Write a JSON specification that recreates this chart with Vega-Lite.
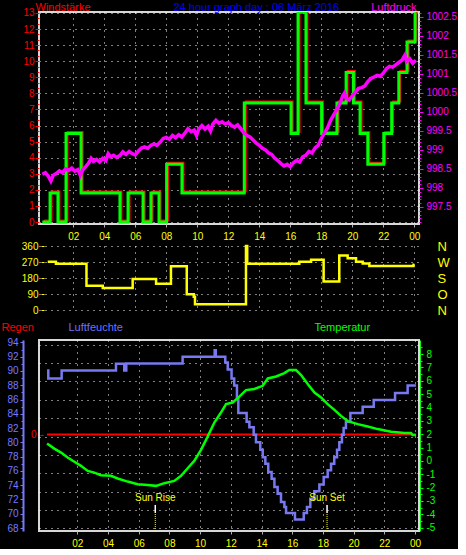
{
 "$schema": "https://vega.github.io/schema/vega-lite/v6.json",
 "background": "#000000",
 "padding": 0,
 "bounds": "flush",
 "spacing": 22,
 "config": {
  "view": {"stroke": null},
  "font": "Liberation Sans",
  "axis": {"labelFont": "Liberation Sans", "titleFont": "Liberation Sans", "labelFontSize": 10, "titleFontSize": 11, "titleFontWeight": "normal", "gridColor": "#ffffff", "gridDash": [1, 5], "gridOpacity": 1, "gridWidth": 1, "grid": false, "titleBaseline": "top", "titleAngle": 0}
 },
 "datasets": {
  "wind": [{"h":0,"v":0},{"h":0.5,"v":1.8},{"h":1.01,"v":0},{"h":1.53,"v":5.5},{"h":2.5,"v":1.8},{"h":5.01,"v":0},{"h":5.53,"v":1.8},{"h":6.5,"v":0},{"h":7.01,"v":1.8},{"h":7.53,"v":0},{"h":8.02,"v":3.6},{"h":9.01,"v":1.8},{"h":13.03,"v":7.4},{"h":16.05,"v":5.5},{"h":16.5,"v":13.05},{"h":17.01,"v":7.4},{"h":18.02,"v":5.5},{"h":19.01,"v":7.4},{"h":19.6,"v":9.3},{"h":20.07,"v":7.4},{"h":20.5,"v":5.5},{"h":21.0,"v":3.6},{"h":22.03,"v":5.5},{"h":22.54,"v":7.4},{"h":23.0,"v":9.3},{"h":23.53,"v":11.2},{"h":24.05,"v":13.05}],
  "press": [{"h":0.0,"p":998.36},{"h":0.2,"p":998.40},{"h":0.4,"p":998.30},{"h":0.55,"p":998.18},{"h":0.7,"p":998.33},{"h":0.9,"p":998.38},{"h":1.1,"p":998.45},{"h":1.3,"p":998.40},{"h":1.5,"p":998.50},{"h":1.7,"p":998.46},{"h":1.9,"p":998.52},{"h":2.1,"p":998.44},{"h":2.3,"p":998.48},{"h":2.45,"p":998.33},{"h":2.6,"p":998.47},{"h":2.8,"p":998.56},{"h":3.0,"p":998.66},{"h":3.15,"p":998.78},{"h":3.3,"p":998.70},{"h":3.5,"p":998.75},{"h":3.7,"p":998.68},{"h":3.9,"p":998.78},{"h":4.1,"p":998.72},{"h":4.25,"p":998.90},{"h":4.4,"p":998.82},{"h":4.6,"p":998.86},{"h":4.8,"p":998.80},{"h":5.0,"p":998.85},{"h":5.2,"p":998.95},{"h":5.4,"p":998.88},{"h":5.6,"p":998.96},{"h":5.8,"p":998.90},{"h":6.0,"p":998.87},{"h":6.2,"p":998.97},{"h":6.4,"p":999.05},{"h":6.6,"p":999.08},{"h":6.8,"p":999.04},{"h":7.0,"p":999.12},{"h":7.2,"p":999.16},{"h":7.4,"p":999.12},{"h":7.6,"p":999.20},{"h":7.8,"p":999.30},{"h":8.0,"p":999.33},{"h":8.2,"p":999.28},{"h":8.4,"p":999.38},{"h":8.6,"p":999.32},{"h":8.8,"p":999.40},{"h":9.0,"p":999.34},{"h":9.2,"p":999.44},{"h":9.4,"p":999.56},{"h":9.6,"p":999.48},{"h":9.8,"p":999.52},{"h":9.95,"p":999.38},{"h":10.1,"p":999.55},{"h":10.3,"p":999.64},{"h":10.5,"p":999.55},{"h":10.7,"p":999.62},{"h":10.85,"p":999.50},{"h":11.0,"p":999.68},{"h":11.2,"p":999.78},{"h":11.4,"p":999.70},{"h":11.6,"p":999.74},{"h":11.8,"p":999.68},{"h":12.0,"p":999.72},{"h":12.2,"p":999.64},{"h":12.4,"p":999.60},{"h":12.6,"p":999.66},{"h":12.8,"p":999.56},{"h":13.0,"p":999.45},{"h":13.2,"p":999.38},{"h":13.4,"p":999.34},{"h":13.6,"p":999.26},{"h":13.8,"p":999.18},{"h":14.0,"p":999.12},{"h":14.2,"p":999.04},{"h":14.4,"p":999.00},{"h":14.6,"p":998.92},{"h":14.8,"p":998.88},{"h":15.0,"p":998.78},{"h":15.2,"p":998.72},{"h":15.4,"p":998.64},{"h":15.6,"p":998.58},{"h":15.8,"p":998.62},{"h":16.0,"p":998.56},{"h":16.2,"p":998.66},{"h":16.4,"p":998.72},{"h":16.6,"p":998.68},{"h":16.8,"p":998.82},{"h":17.0,"p":998.86},{"h":17.2,"p":998.96},{"h":17.4,"p":998.92},{"h":17.6,"p":999.05},{"h":17.8,"p":999.12},{"h":18.0,"p":999.30},{"h":18.2,"p":999.45},{"h":18.4,"p":999.58},{"h":18.6,"p":999.78},{"h":18.8,"p":999.92},{"h":19.0,"p":1000.06},{"h":19.2,"p":1000.22},{"h":19.4,"p":1000.44},{"h":19.5,"p":1000.50},{"h":19.6,"p":1000.36},{"h":19.8,"p":1000.32},{"h":20.0,"p":1000.42},{"h":20.2,"p":1000.52},{"h":20.4,"p":1000.62},{"h":20.6,"p":1000.64},{"h":20.8,"p":1000.68},{"h":21.0,"p":1000.80},{"h":21.2,"p":1000.88},{"h":21.4,"p":1000.92},{"h":21.6,"p":1000.96},{"h":21.8,"p":1000.94},{"h":22.0,"p":1001.02},{"h":22.2,"p":1001.14},{"h":22.4,"p":1001.20},{"h":22.6,"p":1001.18},{"h":22.8,"p":1001.24},{"h":23.0,"p":1001.30},{"h":23.2,"p":1001.36},{"h":23.4,"p":1001.50},{"h":23.5,"p":1001.32},{"h":23.7,"p":1001.40},{"h":23.9,"p":1001.28},{"h":24.1,"p":1001.36}],
  "dir": [{"h":0.35,"d":272},{"h":0.88,"d":260},{"h":2.85,"d":137},{"h":3.9,"d":124},{"h":5.83,"d":174},{"h":7.34,"d":148},{"h":8.3,"d":246},{"h":9.32,"d":88},{"h":9.77,"d":75},{"h":9.85,"d":32},{"h":13.14,"d":360},{"h":13.22,"d":260},{"h":16.58,"d":272},{"h":17.34,"d":283},{"h":18.15,"d":161},{"h":19.16,"d":307},{"h":19.7,"d":291},{"h":20.24,"d":272},{"h":20.67,"d":261},{"h":21.1,"d":247},{"h":23.95,"d":255},{"h":24.0,"d":255}],
  "hum": [{"h":0.03,"u":90.05},{"h":0.11,"u":88.95},{"h":0.98,"u":90.05},{"h":4.52,"u":91.0},{"h":5.06,"u":90.05},{"h":5.19,"u":91.05},{"h":8.86,"u":92.0},{"h":10.95,"u":92.9},{"h":11.02,"u":92.0},{"h":11.64,"u":91.2},{"h":11.8,"u":90.2},{"h":12.05,"u":88.95},{"h":12.22,"u":87.95},{"h":12.4,"u":86.3},{"h":12.49,"u":84.1},{"h":13.03,"u":82.9},{"h":13.21,"u":82.1},{"h":13.49,"u":81.05},{"h":13.64,"u":80.0},{"h":13.92,"u":78.95},{"h":14.08,"u":77.9},{"h":14.25,"u":77.0},{"h":14.44,"u":75.85},{"h":14.66,"u":74.9},{"h":14.84,"u":73.75},{"h":15.05,"u":72.8},{"h":15.27,"u":71.65},{"h":15.49,"u":70.95},{"h":15.6,"u":70.1},{"h":16.18,"u":69.2},{"h":16.75,"u":70.1},{"h":16.96,"u":70.95},{"h":17.18,"u":72.1},{"h":17.44,"u":73.15},{"h":17.77,"u":74.1},{"h":18.05,"u":75.15},{"h":18.31,"u":76.1},{"h":18.53,"u":77.0},{"h":18.74,"u":77.9},{"h":18.92,"u":78.95},{"h":19.07,"u":80.0},{"h":19.24,"u":81.05},{"h":19.35,"u":82.0},{"h":19.5,"u":82.9},{"h":19.79,"u":84.1},{"h":20.59,"u":85.0},{"h":21.31,"u":85.95},{"h":22.7,"u":86.9},{"h":23.52,"u":87.95},{"h":24.06,"u":87.95}],
  "temp": [{"h":0.03,"t":1.3},{"h":0.5,"t":0.92},{"h":0.94,"t":0.62},{"h":1.37,"t":0.25},{"h":1.81,"t":-0.07},{"h":2.24,"t":-0.37},{"h":2.68,"t":-0.75},{"h":3.11,"t":-0.88},{"h":3.54,"t":-1.07},{"h":4.19,"t":-1.12},{"h":4.63,"t":-1.32},{"h":5.28,"t":-1.55},{"h":5.93,"t":-1.75},{"h":6.58,"t":-1.8},{"h":7.13,"t":-1.87},{"h":7.67,"t":-1.67},{"h":8.32,"t":-1.5},{"h":8.76,"t":-1.12},{"h":9.19,"t":-0.55},{"h":9.62,"t":0.0},{"h":10.06,"t":0.83},{"h":10.49,"t":1.82},{"h":10.93,"t":2.87},{"h":11.36,"t":3.62},{"h":11.69,"t":4.25},{"h":12.12,"t":4.37},{"h":12.45,"t":4.7},{"h":12.99,"t":5.3},{"h":13.53,"t":5.38},{"h":14.08,"t":5.62},{"h":14.41,"t":6.17},{"h":14.95,"t":6.32},{"h":15.49,"t":6.57},{"h":15.81,"t":6.8},{"h":16.25,"t":6.8},{"h":16.58,"t":6.43},{"h":17.01,"t":5.75},{"h":17.45,"t":5.12},{"h":17.88,"t":4.75},{"h":18.31,"t":4.25},{"h":18.75,"t":3.82},{"h":19.18,"t":3.37},{"h":19.62,"t":2.98},{"h":20.27,"t":2.75},{"h":20.92,"t":2.57},{"h":21.57,"t":2.38},{"h":22.44,"t":2.18},{"h":23.31,"t":2.08},{"h":23.74,"t":2.08},{"h":23.85,"t":1.93},{"h":24.06,"t":1.93}],
  "regen": [{"h":0.03,"r":0},{"h":24.06,"r":0}],
  "sun": [{"h":7.08,"label":"Sun Rise"},{"h":18.27,"label":"Sun Set"}]
 },
 "vconcat": [
  {
   "width": 380,
   "height": 212,
   "view": {"stroke": "#d8d8d8", "strokeWidth": 2},
   "layer": [
    {
     "data": {"name": "wind"},
     "mark": {"type": "line", "interpolate": "step-after", "color": "#ff0000", "strokeWidth": 2, "yOffset": -1.5, "xOffset": 1.5, "clip": true},
     "encoding": {
      "x": {"field": "h", "type": "quantitative", "scale": {"domain": [-0.213, 24.303], "nice": false, "zero": false},
            "axis": {"values": [2,4,6,8,10,12,14,16,18,20,22,24], "tickCount": 100, "labelExpr": "datum.value >= 24 ? '00' : (datum.value < 10 ? '0' + datum.value : '' + datum.value)", "labelOverlap": false, "labelColor": "#ffff00", "tickColor": "#b0b0b0", "tickSize": 3, "labelPadding": 4, "domain": false, "grid": true, "title": "24 hour graph day : 06 März 2016", "titleColor": "#0000ff", "titleX": 134, "titleY": -223, "titleAlign": "left"}},
      "y": {"field": "v", "type": "quantitative", "scale": {"domain": [-0.12, 13.06], "nice": false, "zero": false},
            "axis": {"orient": "left", "values": [0.333,0.667,1.333,1.667,2.333,2.667,3.333,3.667,4.333,4.667,5.333,5.667,6.333,6.667,7.333,7.667,8.333,8.667,9.333,9.667,10.333,10.667,11.333,11.667,12.333,12.667], "tickCount": 100, "labels": false, "tickColor": "#ff0000", "tickSize": 2, "domain": false, "grid": false, "title": null}}
     }
    },
    {
     "data": {"name": "wind"},
     "mark": {"type": "line", "interpolate": "step-after", "color": "#00ff00", "strokeWidth": 3, "clip": true},
     "encoding": {
      "x": {"field": "h", "type": "quantitative"},
      "y": {"field": "v", "type": "quantitative", "scale": {"domain": [-0.12, 13.06], "nice": false, "zero": false},
            "axis": {"orient": "left", "values": [0,1,2,3,4,5,6,7,8,9,10,11,12,13], "format": "d", "labelColor": "#ff0000", "tickColor": "#ff0000", "tickSize": 4, "labelPadding": 1, "domain": false, "grid": true, "title": "Windstärke", "titleColor": "#ff0000", "titleX": -4, "titleY": -11, "titleAlign": "left"}}
     }
    },
    {
     "data": {"name": "press"},
     "mark": {"type": "line", "opacity": 0},
     "encoding": {
      "x": {"field": "h", "type": "quantitative"},
      "y": {"field": "p", "type": "quantitative", "scale": {"domain": [997.05, 1002.63], "nice": false, "zero": false},
            "axis": {"orient": "right", "values": [997.1,997.2,997.3,997.4,997.6,997.7,997.8,997.9,998.1,998.2,998.3,998.4,998.6,998.7,998.8,998.9,999.1,999.2,999.3,999.4,999.6,999.7,999.8,999.9,1000.1,1000.2,1000.3,1000.4,1000.6,1000.7,1000.8,1000.9,1001.1,1001.2,1001.3,1001.4,1001.6,1001.7,1001.8,1001.9,1002.1,1002.2,1002.3,1002.4,1002.6], "tickCount": 100, "labels": false, "tickColor": "#ff00ff", "tickSize": 2, "domain": false, "grid": false, "title": null}}
     }
    },
    {
     "data": {"name": "press"},
     "mark": {"type": "line", "color": "#ff00ff", "strokeWidth": 3.5, "clip": true},
     "encoding": {
      "x": {"field": "h", "type": "quantitative"},
      "y": {"field": "p", "type": "quantitative", "scale": {"domain": [997.05, 1002.63], "nice": false, "zero": false},
            "axis": {"orient": "right", "values": [997.5,998,998.5,999,999.5,1000,1000.5,1001,1001.5,1002,1002.5], "labelExpr": "'' + datum.value", "labelColor": "#ff00ff", "tickColor": "#ff00ff", "tickSize": 4, "labelPadding": 3, "domain": false, "grid": false, "title": "Luftdruck", "titleColor": "#ff00ff", "titleX": -3, "titleY": -11, "titleAlign": "right"}}
     }
    }
   ],
   "resolve": {"scale": {"y": "independent"}}
  },
  {
   "bounds": "flush",
   "spacing": 30,
   "vconcat": [
    {
     "width": 380,
     "height": 64,
     "data": {"name": "dir"},
     "layer": [
      {
       "mark": {"type": "line", "interpolate": "step-after", "color": "#ffff00", "strokeWidth": 2.5},
       "encoding": {
        "x": {"field": "h", "type": "quantitative", "scale": {"domain": [-0.213, 24.303], "nice": false, "zero": false},
              "axis": {"values": [2,4,6,8,10,12,14,16,18,20,22,24], "tickCount": 100, "labels": false, "ticks": false, "domain": false, "grid": true, "title": null}},
        "y": {"field": "d", "type": "quantitative", "scale": {"domain": [0, 360], "nice": false, "zero": false},
              "axis": {"orient": "left", "values": [0,90,180,270,360], "format": "d", "labelColor": "#ffff00", "tickColor": "#ffff00", "tickSize": 3, "labelPadding": 3, "offset": -5, "domain": false, "grid": true, "title": null}}
       }
      },
      {
       "mark": {"type": "line", "opacity": 0},
       "encoding": {
        "x": {"field": "h", "type": "quantitative"},
        "y": {"field": "d", "type": "quantitative",
              "axis": {"orient": "right", "values": [0,90,180,270,360], "labelExpr": "datum.value == 270 ? 'W' : datum.value == 180 ? 'S' : datum.value == 90 ? 'O' : 'N'", "labelColor": "#ffff00", "labelFontSize": 13, "ticks": false, "domain": false, "labelPadding": 18, "grid": false, "title": null}}
       }
      }
     ],
     "resolve": {"axis": {"y": "independent"}}
    },
    {
     "width": 380,
     "height": 191,
     "view": {"stroke": "#d8d8d8", "strokeWidth": 2},
     "layer": [
      {
       "data": {"name": "regen"},
       "mark": {"type": "line", "opacity": 0},
       "encoding": {
        "x": {"field": "h", "type": "quantitative", "scale": {"domain": [-0.495, 24.26], "nice": false, "zero": false},
              "axis": {"values": [2,4,6,8,10,12,14,16,18,20,22,24], "tickCount": 100, "labelExpr": "datum.value >= 24 ? '00' : (datum.value < 10 ? '0' + datum.value : '' + datum.value)", "labelOverlap": false, "labelColor": "#ffff00", "tickColor": "#b0b0b0", "tickSize": 3, "labelPadding": 4, "domain": false, "grid": true, "title": null}},
        "y": {"field": "r", "type": "quantitative", "scale": {"domain": [-0.147, 10.256], "nice": false, "zero": false},
              "axis": {"orient": "left", "values": [0,1,2,3,4,5,6,7,8,9,10], "tickCount": 100, "labels": false, "ticks": false, "domain": false, "grid": true, "title": null}}
       }
      },
      {
       "data": {"name": "regen"},
       "mark": {"type": "line", "color": "#ff0000", "strokeWidth": 2},
       "encoding": {
        "x": {"field": "h", "type": "quantitative"},
        "y": {"field": "r", "type": "quantitative", "scale": {"domain": [-1, 0.98], "nice": false, "zero": false},
              "axis": {"orient": "left", "values": [0], "format": "d", "labelColor": "#ff0000", "tickColor": "#ff0000", "tickSize": 3, "labelPadding": 4, "offset": -4, "domain": false, "grid": false, "title": "Regen", "titleColor": "#ff0000", "titleX": -42, "titleY": -19, "titleAlign": "left"}}
       }
      },
      {
       "data": {"name": "hum"},
       "mark": {"type": "line", "opacity": 0},
       "encoding": {
        "x": {"field": "h", "type": "quantitative"},
        "y": {"field": "u", "type": "quantitative", "scale": {"domain": [67.58, 94.34], "nice": false, "zero": false},
              "axis": {"orient": "left", "values": [69,71,73,75,77,79,81,83,85,87,89,91,93], "tickCount": 100, "labels": false, "tickColor": "#7878ff", "tickSize": 2, "offset": 16, "domain": false, "grid": false, "title": null}}
       }
      },
      {
       "data": {"name": "hum"},
       "mark": {"type": "line", "interpolate": "step-after", "color": "#7878f0", "strokeWidth": 2.5},
       "encoding": {
        "x": {"field": "h", "type": "quantitative"},
        "y": {"field": "u", "type": "quantitative", "scale": {"domain": [67.58, 94.34], "nice": false, "zero": false},
              "axis": {"orient": "left", "values": [68,70,72,74,76,78,80,82,84,86,88,90,92,94], "format": "d", "labelColor": "#7878ff", "tickColor": "#7878ff", "domainColor": "#7878ff", "domainWidth": 2, "tickSize": 3, "labelPadding": 2, "offset": 16, "domain": true, "grid": false, "title": "Luftfeuchte", "titleColor": "#7070ff", "titleX": 45, "titleY": -19, "titleAlign": "left"}}
       }
      },
      {
       "data": {"name": "temp"},
       "mark": {"type": "line", "color": "#00ff00", "strokeWidth": 2.5},
       "encoding": {
        "x": {"field": "h", "type": "quantitative"},
        "y": {"field": "t", "type": "quantitative", "scale": {"domain": [-5.25, 9.05], "nice": false, "zero": false},
              "axis": {"orient": "right", "values": [-5,-4,-3,-2,-1,0,1,2,3,4,5,6,7,8], "labelExpr": "'' + datum.value", "labelColor": "#00ff00", "tickColor": "#00ff00", "domainColor": "#00ff00", "tickSize": 3, "labelPadding": 3, "offset": 1, "domain": true, "grid": false, "title": "Temperatur", "titleColor": "#00ff00", "titleX": -106, "titleY": -19, "titleAlign": "left"}}
       }
      },
      {
       "data": {"name": "sun"},
       "mark": {"type": "rule", "color": "#ffff00", "strokeWidth": 1, "strokeDash": [1, 1]},
       "encoding": {
        "x": {"field": "h", "type": "quantitative"},
        "y": {"datum": -5.25, "type": "quantitative", "scale": {"domain": [-5.25, 9.05], "nice": false, "zero": false},
              "axis": {"orient": "right", "values": [-4.5,-3.5,-2.5,-1.5,-0.5,0.5,1.5,2.5,3.5,4.5,5.5,6.5,7.5,8.5], "tickCount": 100, "labels": false, "tickColor": "#00ff00", "tickSize": 2, "offset": 1, "domain": false, "grid": false, "title": null}},
        "y2": {"datum": -3.9}
       }
      },
      {
       "data": {"name": "sun"},
       "mark": {"type": "rule", "color": "#ffffff", "strokeWidth": 1.5},
       "encoding": {
        "x": {"field": "h", "type": "quantitative"},
        "y": {"datum": -3.9, "type": "quantitative", "scale": {"domain": [-5.25, 9.05], "nice": false, "zero": false}, "axis": null},
        "y2": {"datum": -3.3}
       }
      },
      {
       "data": {"name": "sun"},
       "mark": {"type": "text", "color": "#ffff00", "fontSize": 10, "baseline": "bottom", "font": "Liberation Sans"},
       "encoding": {
        "x": {"field": "h", "type": "quantitative"},
        "y": {"datum": -3.12, "type": "quantitative", "scale": {"domain": [-5.25, 9.05], "nice": false, "zero": false}, "axis": null},
        "text": {"field": "label"}
       }
      }
     ],
     "resolve": {"scale": {"y": "independent"}}
    }
   ]
  }
 ]
}
